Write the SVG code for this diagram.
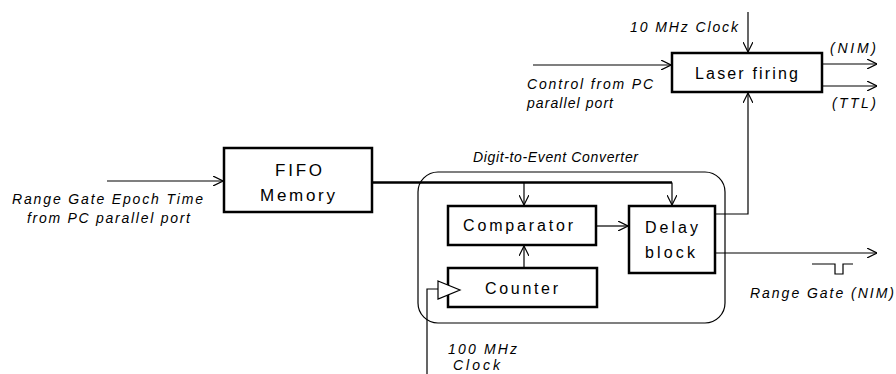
<svg xmlns="http://www.w3.org/2000/svg" width="896" height="374" viewBox="0 0 896 374">
<style>
.box{fill:#fff;stroke:#000;stroke-width:2.5}
.ln{fill:none;stroke:#000;stroke-width:1.2}
.thick{fill:none;stroke:#000;stroke-width:2.5}
.bt{font-family:"Liberation Sans",Arial,sans-serif;font-size:16px;fill:#000;text-anchor:start}
.it{font-family:"Liberation Sans",Arial,sans-serif;font-size:14px;font-style:italic;fill:#000}
</style>
<defs>
<marker id="arr" viewBox="0 0 10 10" refX="10" refY="5" markerWidth="10" markerHeight="10" markerUnits="userSpaceOnUse" orient="auto">
<path d="M0,0 L10,5 L0,10" fill="none" stroke="#000" stroke-width="1.2"/>
</marker>
</defs>
<rect width="896" height="374" fill="#fff"/>

<g id="converter">
<rect x="418" y="172" width="307" height="151" rx="20" ry="20" fill="none" stroke="#000" stroke-width="1.2"/>
<text class="it" x="473" y="162" textLength="165" lengthAdjust="spacing">Digit-to-Event Converter</text>
</g>

<g id="connectors">
<path class="ln" d="M107,181 H223" marker-end="url(#arr)"/>
<path class="thick" d="M372,182.5 H672"/>
<path class="ln" d="M672,182.5 V205" marker-end="url(#arr)"/>
<path class="ln" d="M524,182.5 V205" marker-end="url(#arr)"/>
<path class="ln" d="M597,226 H628" marker-end="url(#arr)"/>
<path class="ln" d="M524,268 V246" marker-end="url(#arr)"/>
<path class="ln" d="M715,214 H748 V93" marker-end="url(#arr)"/>
<path class="ln" d="M748,12 V52" marker-end="url(#arr)"/>
<path class="ln" d="M533,65 H671" marker-end="url(#arr)"/>
<path class="ln" d="M822,64 H877" marker-end="url(#arr)"/>
<path class="ln" d="M822,86 H877" marker-end="url(#arr)"/>
<path class="ln" d="M715,253 H877" marker-end="url(#arr)"/>
<path class="ln" d="M812,264 H835 V274 H843 V264 H853"/>
<path class="ln" d="M427,374 V289 H438"/>
</g>

<g id="fifo">
<rect class="box" x="224" y="148" width="148" height="64"/>
<text class="bt" x="275" y="176" textLength="47" lengthAdjust="spacing" style="font-size:17px">FIFO</text>
<text class="bt" x="260" y="201" textLength="75" lengthAdjust="spacing" style="font-size:17px">Memory</text>
</g>

<g id="laser">
<rect class="box" x="672" y="53" width="150" height="39"/>
<text class="bt" x="695" y="79" textLength="103" lengthAdjust="spacing">Laser firing</text>
</g>

<g id="comparator">
<rect class="box" x="448" y="206" width="148" height="39"/>
<text class="bt" x="463" y="231" textLength="110" lengthAdjust="spacing">Comparator</text>
</g>

<g id="delay">
<rect class="box" x="629" y="206" width="86" height="67"/>
<text class="bt" x="645" y="233" textLength="53" lengthAdjust="spacing">Delay</text>
<text class="bt" x="645" y="258" textLength="50" lengthAdjust="spacing">block</text>
</g>

<g id="counter">
<rect class="box" x="448" y="268" width="149" height="39"/>
<text class="bt" x="485" y="294" textLength="73" lengthAdjust="spacing">Counter</text>
<path d="M438,281 L460,290 L438,299 Z" fill="#fff" stroke="#000" stroke-width="1.2"/>
</g>

<g id="labels">
<text class="it" x="630" y="32" textLength="108" lengthAdjust="spacing">10 MHz Clock</text>
<text class="it" x="830" y="53" textLength="46" lengthAdjust="spacing">(NIM)</text>
<text class="it" x="832" y="108" textLength="44" lengthAdjust="spacing">(TTL)</text>
<text class="it" x="527" y="89" textLength="126" lengthAdjust="spacing">Control from PC</text>
<text class="it" x="527" y="108" textLength="86" lengthAdjust="spacing">parallel port</text>
<text class="it" x="12" y="204" textLength="191" lengthAdjust="spacing">Range Gate Epoch Time</text>
<text class="it" x="27" y="223" textLength="163" lengthAdjust="spacing">from PC parallel port</text>
<text class="it" x="750" y="298" textLength="144" lengthAdjust="spacing">Range Gate (NIM)</text>
<text class="it" x="448" y="354" textLength="69" lengthAdjust="spacing">100 MHz</text>
<text class="it" x="453" y="370" textLength="47" lengthAdjust="spacing">Clock</text>
</g>
</svg>
